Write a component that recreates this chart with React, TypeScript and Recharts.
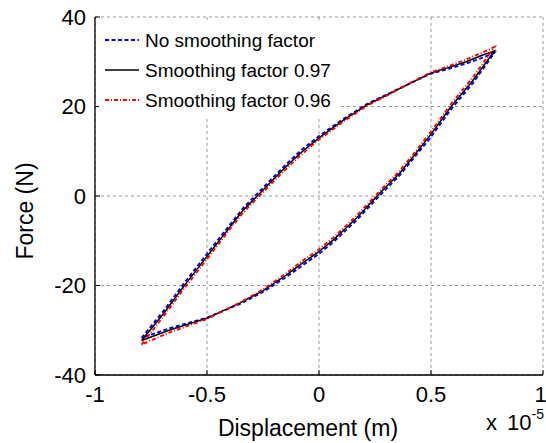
import { LineChart, Line, XAxis, YAxis, CartesianGrid } from 'recharts';

const FONT = '"Liberation Sans", Arial, Helvetica, sans-serif';

const dispTicks = [-1, -0.5, 0, 0.5, 1];
const forceTicks = [-40, -20, 0, 20, 40];

// displacement (x 10^-5 m): upper branch left->right, then lower branch back
const displacement = [
  -0.792, -0.693, -0.604, -0.5, -0.396, -0.337, -0.27, -0.2, -0.144, -0.085,
  0, 0.108, 0.212, 0.316, 0.42, 0.497, 0.583, 0.657, 0.731, 0.783,
  0.687, 0.59, 0.497, 0.43, 0.36, 0.271, 0.168, 0.064, 0, -0.085,
  -0.144, -0.248, -0.352, -0.5, -0.663, -0.792,
];

const forceNoSmoothing = [
  -31.7, -25.6, -19.6, -12.9, -6.3, -2.6, 0.8, 4.4, 7.2, 10.0,
  13.4, 17.2, 20.5, 23.0, 25.5, 27.3, 28.5, 29.6, 30.9, 32.0,
  25.2, 19.4, 13.0, 8.9, 4.6, 0.1, -5.4, -10.3, -12.9, -15.9,
  -18.0, -21.4, -24.1, -27.2, -29.5, -31.7,
];

const forceSmooth097 = [
  -32.3, -26.2, -20.2, -13.5, -6.8, -3.1, 0.3, 3.9, 6.7, 9.5,
  13.0, 16.9, 20.3, 22.9, 25.5, 27.4, 28.8, 30.0, 31.5, 32.4,
  25.8, 20.0, 13.6, 9.4, 5.1, 0.6, -4.9, -9.8, -12.4, -15.4,
  -17.6, -21.1, -23.9, -27.3, -29.9, -32.3,
];

const forceSmooth096 = [
  -33.2, -26.8, -20.8, -14.1, -7.3, -3.6, -0.2, 3.4, 6.2, 9.0,
  12.6, 16.6, 20.1, 22.8, 25.6, 27.6, 29.1, 30.5, 32.1, 33.3,
  26.5, 20.6, 14.2, 9.9, 5.6, 1.1, -4.4, -9.3, -11.9, -14.9,
  -17.2, -20.8, -23.8, -27.5, -30.4, -33.2,
];

const toPoints = (ys: number[]) => displacement.map((x, i) => ({ x, y: ys[i] }));

const series = [
  { name: 'No smoothing factor', values: forceNoSmoothing, color: '#0000ff', dash: '4 2.5', width: 1.9 },
  { name: 'Smoothing factor 0.97', values: forceSmooth097, color: '#000000', dash: undefined, width: 1.5 },
  { name: 'Smoothing factor 0.96', values: forceSmooth096, color: '#ff0000', dash: '4 2 1 2', width: 1.9 },
];

function LegendBox() {
  return (
    <svg
      width={242}
      height={94}
      style={{ position: 'absolute', left: 99, top: 22, background: '#fff' }}
    >
      {series.map((s, i) => {
        const cy = 18 + i * 30;
        return (
          <g key={s.name}>
            <line x1={6} x2={40} y1={cy} y2={cy} stroke={s.color} strokeWidth={s.width} strokeDasharray={s.dash} />
            <text x={46} y={cy + 7} fontSize={19} fontFamily={FONT} fill="#000">
              {s.name}
            </text>
          </g>
        );
      })}
    </svg>
  );
}

export default function App() {
  return (
    <div style={{ position: 'absolute', left: 0, top: 0, width: 546, height: 443, background: '#fff' }}>
      <LineChart width={546} height={443} margin={{ top: 17, right: 3, bottom: 0, left: 0 }}>
        <CartesianGrid xAxisId="bottom" yAxisId="left" stroke="#6e6e6e" strokeDasharray="3 3" strokeWidth={0.7} />
        <XAxis
          xAxisId="bottom"
          type="number"
          dataKey="x"
          domain={[-1, 1]}
          ticks={dispTicks}
          height={68}
          tickSize={-5}
          tickMargin={16}
          axisLine={{ stroke: '#000', strokeWidth: 1.3 }}
          tickLine={{ stroke: '#000' }}
          tick={{ fill: '#000', fontSize: 22, fontFamily: FONT }}
          label={{
            content: () => (
              <g fontFamily={FONT} fill="#000">
                <text x={308} y={436} fontSize={23} textAnchor="middle">Displacement (m)</text>
                <text x={486} y={430} fontSize={22}>x</text>
                <text x={507} y={430} fontSize={22}>
                  10<tspan dy={-11} fontSize={14}>-5</tspan>
                </text>
              </g>
            ),
          }}
        />
        <XAxis
          xAxisId="top"
          orientation="top"
          type="number"
          dataKey="x"
          domain={[-1, 1]}
          ticks={dispTicks}
          height={0}
          tickSize={-5}
          tick={false}
          axisLine={{ stroke: '#000', strokeWidth: 1.3 }}
          tickLine={{ stroke: '#000' }}
        />
        <YAxis
          yAxisId="left"
          type="number"
          domain={[-40, 40]}
          ticks={forceTicks}
          width={95}
          tickSize={-5}
          tickMargin={14}
          axisLine={{ stroke: '#000', strokeWidth: 1.3 }}
          tickLine={{ stroke: '#000' }}
          tick={{ fill: '#000', fontSize: 22, fontFamily: FONT }}
          label={{
            content: () => (
              <text
                transform="translate(33, 211) rotate(-90)"
                x={0}
                y={0}
                fontSize={23}
                fontFamily={FONT}
                fill="#000"
                textAnchor="middle"
              >
                Force (N)
              </text>
            ),
          }}
        />
        <YAxis
          yAxisId="right"
          orientation="right"
          type="number"
          domain={[-40, 40]}
          ticks={forceTicks}
          width={0}
          tickSize={-5}
          tick={false}
          axisLine={{ stroke: '#000', strokeWidth: 1.3 }}
          tickLine={{ stroke: '#000' }}
        />
        {series.map((s) => (
          <Line
            key={s.name}
            xAxisId="bottom"
            yAxisId="left"
            data={toPoints(s.values)}
            dataKey="y"
            name={s.name}
            type="linear"
            stroke={s.color}
            strokeWidth={s.width}
            strokeDasharray={s.dash}
            dot={false}
            activeDot={false}
            isAnimationActive={false}
          />
        ))}
      </LineChart>
      <LegendBox />
    </div>
  );
}
